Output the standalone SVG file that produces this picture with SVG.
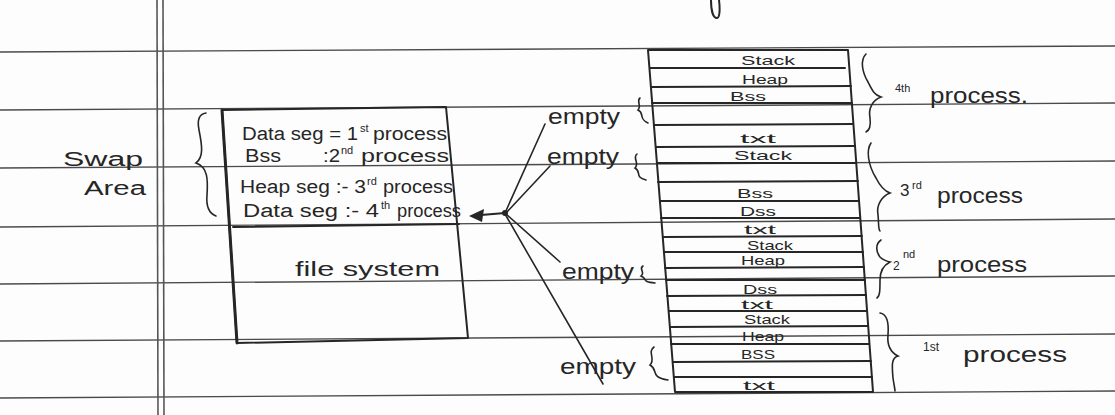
<svg xmlns="http://www.w3.org/2000/svg" width="1115" height="415" viewBox="0 0 1115 415">
<style>
.rule{stroke:#4a4a4a;stroke-width:1.4;fill:none}
.margin{stroke:#555;stroke-width:1.6;fill:none}
.pen{stroke:#262626;stroke-width:2;fill:none;stroke-linecap:round;stroke-linejoin:round}
.thin{stroke:#262626;stroke-width:1.6;fill:none;stroke-linecap:round}
.hw{font-family:"Liberation Sans","DejaVu Sans",sans-serif;fill:#262626}
.t18{font-size:18px}
.t20{font-size:20px}
.t22{font-size:22px}
.s13{font-size:13px}
.sup{font-size:11px}
</style>
<rect width="1115" height="415" fill="#fdfdfd"/>
<g id="paper">
<line class="rule" x1="0" y1="52" x2="1115" y2="46"/>
<line class="rule" x1="0" y1="110" x2="1115" y2="103"/>
<line class="rule" x1="0" y1="168" x2="1115" y2="161"/>
<line class="rule" x1="0" y1="227" x2="1115" y2="219"/>
<line class="rule" x1="0" y1="284" x2="1115" y2="276"/>
<line class="rule" x1="0" y1="341" x2="1115" y2="334"/>
<line class="rule" x1="0" y1="398" x2="1115" y2="391"/>
<line class="margin" x1="157" y1="0" x2="158" y2="415"/>
<line class="margin" x1="163" y1="0" x2="164" y2="415"/>
<path class="pen" d="M711,0 C711,10 713,18 717,18 C720,18 720,8 719,0"/>
</g>
<g id="swap-label">
<text class="hw t20" x="63" y="166" textLength="80" lengthAdjust="spacingAndGlyphs">Swap</text>
<text class="hw t20" x="84" y="195" textLength="62" lengthAdjust="spacingAndGlyphs">Area</text>
<path class="thin" d="M206,113 C199,114 197,120 199,130 C202,145 204,157 196,163 C208,167 208,180 207,195 C206,206 208,213 216,216"/>
</g>
<g id="swap-area">
<path class="pen" d="M222,110 L446,107 L468,338 L237,343 Z"/>
<line class="pen" x1="222" y1="110" x2="237" y2="343" style="stroke-width:3"/>
<line class="pen" x1="233" y1="227" x2="459" y2="224"/>
<text class="hw t18" y="140"><tspan x="242" textLength="116" lengthAdjust="spacingAndGlyphs">Data seg = 1</tspan><tspan class="sup" x="360" y="132">st</tspan><tspan x="373" y="140" textLength="74" lengthAdjust="spacingAndGlyphs">process</tspan></text>
<text class="hw t18" y="162"><tspan x="245" textLength="36" lengthAdjust="spacingAndGlyphs">Bss</tspan><tspan x="323" textLength="17" lengthAdjust="spacingAndGlyphs">:2</tspan><tspan class="sup" x="341" y="154">nd</tspan><tspan x="361" y="162" textLength="88" lengthAdjust="spacingAndGlyphs">process</tspan></text>
<text class="hw t18" y="193"><tspan x="240" textLength="126" lengthAdjust="spacingAndGlyphs">Heap seg :- 3</tspan><tspan class="sup" x="367" y="185">rd</tspan><tspan x="383" y="193" textLength="70" lengthAdjust="spacingAndGlyphs">process</tspan></text>
<text class="hw t18" y="217"><tspan x="243" textLength="136" lengthAdjust="spacingAndGlyphs">Data seg :- 4</tspan><tspan class="sup" x="381" y="209">th</tspan><tspan x="397" y="217" textLength="64" lengthAdjust="spacingAndGlyphs">process</tspan></text>
<text class="hw t20" x="295" y="276" textLength="145" lengthAdjust="spacingAndGlyphs">file system</text>
</g>
<g id="connectors">
<line class="pen" x1="505" y1="213" x2="481" y2="215"/>
<polygon points="469,216 484,209 482,222" fill="#262626"/>
<circle cx="505" cy="213" r="3" fill="#262626"/>
<line class="thin" x1="505" y1="213" x2="545" y2="124"/>
<line class="thin" x1="507" y1="212" x2="550" y2="166"/>
<line class="thin" x1="506" y1="214" x2="560" y2="262"/>
<line class="thin" x1="505" y1="214" x2="603" y2="384"/>
</g>
<g id="empty-labels">
<text class="hw t22" x="548" y="124" textLength="72" lengthAdjust="spacingAndGlyphs">empty</text>
<path class="thin" d="M640,98 C636,101 642,106 638,110 C645,113 638,119 648,123"/>
<text class="hw t22" x="547" y="164" textLength="72" lengthAdjust="spacingAndGlyphs">empty</text>
<path class="thin" d="M637,154 C632,158 640,163 635,168 C642,172 634,177 646,180"/>
<text class="hw t22" x="562" y="279" textLength="72" lengthAdjust="spacingAndGlyphs">empty</text>
<path class="thin" d="M643,266 C638,269 646,272 641,276 C648,279 641,282 655,283"/>
<text class="hw t22" x="560" y="374" textLength="76" lengthAdjust="spacingAndGlyphs">empty</text>
<path class="thin" d="M654,347 C647,352 656,359 650,365 C659,370 649,377 668,380"/>
</g>
<g id="memory-stack">
<path class="pen" d="M648,50 L848,50 L873,392 L675,392 Z"/>
<line class="pen" x1="650" y1="68" x2="845" y2="68"/>
<line class="pen" x1="651" y1="87" x2="851" y2="86"/>
<line class="pen" x1="652" y1="103" x2="852" y2="103"/>
<line class="pen" x1="654" y1="125" x2="853" y2="124"/>
<line class="pen" x1="656" y1="147" x2="855" y2="146"/>
<line class="pen" x1="657" y1="163" x2="856" y2="163"/>
<line class="pen" x1="658" y1="182" x2="858" y2="181"/>
<line class="pen" x1="660" y1="201" x2="859" y2="201"/>
<line class="pen" x1="661" y1="218" x2="860" y2="218"/>
<line class="pen" x1="663" y1="237" x2="862" y2="236"/>
<line class="pen" x1="664" y1="252" x2="863" y2="252"/>
<line class="pen" x1="665" y1="268" x2="864" y2="267"/>
<line class="pen" x1="666" y1="280" x2="865" y2="280"/>
<line class="pen" x1="667" y1="296" x2="866" y2="295"/>
<line class="pen" x1="669" y1="311" x2="867" y2="311"/>
<line class="pen" x1="670" y1="327" x2="868" y2="326"/>
<line class="pen" x1="671" y1="344" x2="869" y2="344"/>
<line class="pen" x1="673" y1="362" x2="871" y2="361"/>
<line class="pen" x1="674" y1="377" x2="872" y2="377"/>
<g class="hw s13" text-anchor="middle">
<text x="768" y="65" textLength="54" lengthAdjust="spacingAndGlyphs">Stack</text>
<text x="765" y="84" textLength="46" lengthAdjust="spacingAndGlyphs">Heap</text>
<text x="748" y="101" textLength="36" lengthAdjust="spacingAndGlyphs">Bss</text>
<text x="758" y="143" textLength="36" lengthAdjust="spacingAndGlyphs">txt</text>
<text x="763" y="160" textLength="58" lengthAdjust="spacingAndGlyphs">Stack</text>
<text x="755" y="198" textLength="36" lengthAdjust="spacingAndGlyphs">Bss</text>
<text x="758" y="216" textLength="36" lengthAdjust="spacingAndGlyphs">Dss</text>
<text x="760" y="234" textLength="32" lengthAdjust="spacingAndGlyphs">txt</text>
<text x="770" y="250" textLength="46" lengthAdjust="spacingAndGlyphs">Stack</text>
<text x="763" y="265" textLength="44" lengthAdjust="spacingAndGlyphs">Heap</text>
<text x="760" y="294" textLength="34" lengthAdjust="spacingAndGlyphs">Dss</text>
<text x="757" y="309" textLength="32" lengthAdjust="spacingAndGlyphs">txt</text>
<text x="767" y="324" textLength="46" lengthAdjust="spacingAndGlyphs">Stack</text>
<text x="763" y="341" textLength="42" lengthAdjust="spacingAndGlyphs">Heap</text>
<text x="758" y="359" textLength="34" lengthAdjust="spacingAndGlyphs">BSS</text>
<text x="759" y="390" textLength="32" lengthAdjust="spacingAndGlyphs">txt</text>
</g>
</g>
<g id="process-4">
<path class="thin" d="M866,54 C860,60 862,72 868,82 C872,90 874,95 881,97 C873,100 868,108 870,118 C871,126 870,130 866,132"/>
<text class="hw t22" y="103"><tspan class="sup" x="895" y="92" font-size="12">4th</tspan><tspan x="930" y="103" textLength="98" lengthAdjust="spacingAndGlyphs">process.</tspan></text>
</g>
<g id="process-3">
<path class="thin" d="M871,143 C866,150 868,165 876,178 C880,186 884,191 890,193 C882,196 876,205 878,215 C879,224 878,229 880,231"/>
<text class="hw t22" y="203"><tspan x="900" y="196" font-size="17">3</tspan><tspan class="sup" font-size="11" x="912" y="189">rd</tspan><tspan x="937" y="203" textLength="86" lengthAdjust="spacingAndGlyphs">process</tspan></text>
</g>
<g id="process-2">
<path class="thin" d="M881,240 C875,244 876,252 880,257 C883,260 886,261 890,262 C884,265 880,270 880,280 C880,290 880,296 877,298"/>
<text class="hw t22" y="272"><tspan x="893" y="270" font-size="12">2</tspan><tspan class="sup" font-size="11" x="903" y="258">nd</tspan><tspan x="937" y="272" textLength="90" lengthAdjust="spacingAndGlyphs">process</tspan></text>
</g>
<g id="process-1">
<path class="thin" d="M880,313 C887,314 889,322 888,335 C887,345 890,352 898,356 C891,358 892,366 893,378 C894,385 895,389 895,391"/>
<text class="hw t22" y="362"><tspan x="923" y="351" font-size="12">1st</tspan><tspan x="963" y="362" textLength="104" lengthAdjust="spacingAndGlyphs">process</tspan></text>
</g>
</svg>
